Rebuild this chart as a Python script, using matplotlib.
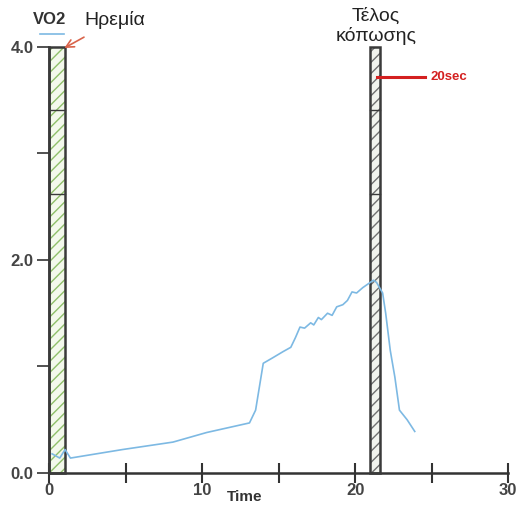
import matplotlib
matplotlib.use("Agg")
import matplotlib.pyplot as plt
from matplotlib.patches import Rectangle

plt.rcParams['font.family'] = ['Liberation Sans', 'DejaVu Sans']

# VO2 trace
time = [0.2, 0.7, 1.05, 1.4, 4.8, 8.1, 10.3, 13.1, 13.5, 14.0, 14.6, 15.3, 15.8,
        16.1, 16.4, 16.7, 17.1, 17.3, 17.6, 17.8, 18.2, 18.5, 18.8, 19.2, 19.5,
        19.8, 20.1, 20.5, 20.8, 21.2, 21.4, 21.8, 22.0, 22.3, 22.6, 22.9, 23.4, 23.9]
vo2 = [0.18, 0.14, 0.22, 0.14, 0.22, 0.29, 0.38, 0.47, 0.59, 1.03, 1.08, 1.14, 1.18,
       1.27, 1.37, 1.36, 1.41, 1.39, 1.46, 1.44, 1.50, 1.48, 1.56, 1.58, 1.62,
       1.70, 1.69, 1.74, 1.77, 1.81, 1.79, 1.69, 1.50, 1.15, 0.90, 0.59, 0.50, 0.39]

# shaded phases (start, end) in minutes
rest_phase = (0.0, 1.05)
fatigue_phase = (21.0, 21.6)
phase_top = 4.0
phase_marks = [3.41, 2.62]

x_ticks = [0, 5, 10, 15, 20, 25, 30]
x_labels = ["0", "", "10", "", "20", "", "30"]
y_ticks = [0, 1, 2, 3, 4]
y_labels = ["0.0", "", "2.0", "", "4.0"]

fig = plt.figure(figsize=(5.17, 5.05), dpi=100)
ax = fig.add_axes([0.0948, 0.0634, 0.888, 0.8436])
ax.set_xlim(0, 30)
ax.set_ylim(0, 4)

# phase boxes: hatch layer then outline
for (x0, x1), hcol, fcol in [(rest_phase, "#8fbf6a", "#f3f8ec"),
                             (fatigue_phase, "#707070", "#f2f4ee")]:
    ax.add_patch(Rectangle((x0, 0), x1 - x0, phase_top, facecolor=fcol,
                           edgecolor=hcol, hatch="///", linewidth=0, clip_on=False, zorder=2))
    ax.add_patch(Rectangle((x0, 0), x1 - x0, phase_top, facecolor="none",
                           edgecolor="#3a3a3a", linewidth=1.8, clip_on=False, zorder=3))
    for m in phase_marks:
        ax.plot([x0, x1], [m, m], color="#3a3a3a", lw=1.0, zorder=3)

ax.plot(time, vo2, color="#7db9e3", lw=1.2, zorder=4)

for s in ["top", "right"]:
    ax.spines[s].set_visible(False)
for s in ["left", "bottom"]:
    ax.spines[s].set_color("#333333")
    ax.spines[s].set_linewidth(1.8)

ax.set_xticks(x_ticks)
ax.set_xticklabels(x_labels)
ax.set_yticks(y_ticks)
ax.set_yticklabels(y_labels)
ax.tick_params(axis="x", direction="inout", length=14, width=1.5, colors="#333333",
               labelsize=12, pad=0)
ax.tick_params(axis="y", direction="out", length=9, width=1.2, colors="#333333",
               labelsize=12, pad=2)
for lab in ax.get_xticklabels() + ax.get_yticklabels():
    lab.set_color("#444444")
    lab.set_fontweight("bold")

# annotations
fig.text(50 / 517, 1 - 20 / 505, "VO2", fontsize=12, color="#333333",
         ha="center", va="center", fontweight="bold")
fig.add_artist(plt.Line2D([40 / 517, 64 / 517], [1 - 34 / 505, 1 - 34 / 505],
                          color="#7db9e3", lw=1.2))
ax.annotate("Ηρεμία", xy=(1.0, 3.99), xycoords="data",
            xytext=(115 / 517, 1 - 20 / 505), textcoords="figure fraction",
            fontsize=14, color="#222222", ha="center", va="center",
            arrowprops=dict(arrowstyle="->", color="#d9634a", lw=1.2,
                            shrinkA=8, shrinkB=0), annotation_clip=False)
fig.text(376 / 517, 1 - 26 / 505, "Τέλος\nκόπωσης", fontsize=14, color="#222222",
         ha="center", va="center", linespacing=1.15)
ax.plot([21.4, 24.6], [3.72, 3.72], color="#d42020", lw=2.2, zorder=5, clip_on=False)
ax.text(24.9, 3.72, "20sec", color="#d42020", fontsize=9.5, fontweight="bold",
        va="center", ha="left")
fig.text(245 / 517, 1 - 497 / 505, "Time", fontsize=11, color="#333333",
         ha="center", va="center", fontweight="bold")

fig.savefig("out.png", dpi=100)
